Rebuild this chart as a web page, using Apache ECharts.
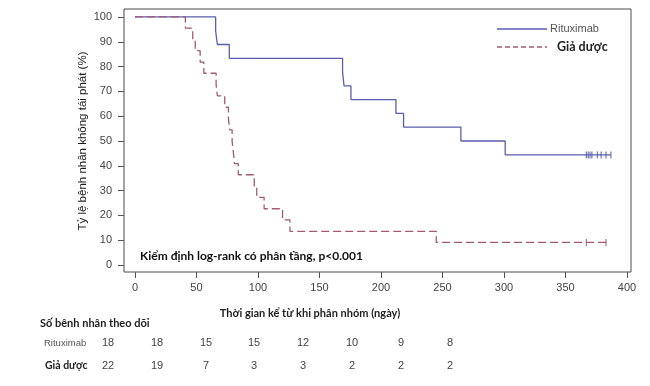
<!DOCTYPE html>
<html>
<head>
<meta charset="utf-8">
<script src="https://cdn.jsdelivr.net/npm/echarts@6/dist/echarts.min.js"></script>
<style>html,body{margin:0;padding:0;background:#fff;}#c{width:650px;height:386px;}</style>
</head>
<body>
<div id="c"></div>
<script>
// ---- data ----
var seriesNames = ['Rituximab', 'Giả dược'];
var rituximabCurve = [[0,100],[65.6,94.4],[67,88.9],[76.7,83.3],[168.8,77.8],[170,72.2],[175.6,66.7],[212.2,61.1],[218.4,55.6],[265,50],[301,44.4],[387,44.4]];
var placeboCurve = [[0,100],[41,95.5],[47,90.9],[49,86.4],[53,81.8],[56,77.3],[66,72.7],[67,68.2],[73,63.6],[76,59.1],[77,54.5],[79,50],[80,45.5],[81,40.9],[84,36.4],[97,31.8],[99,27.3],[105,22.7],[120,18.2],[126,13.6],[245,9.1],[383,9.1]];
var rituximabCensor = [[367,44.4],[368.5,44.4],[370,44.4],[371.5,44.4],[376,44.4],[379,44.4],[383,44.4],[387,44.4]];
var placeboCensor = [[367,9.1],[383,9.1]];
var xTicks = [0,50,100,150,200,250,300,350,400];
var yTicks = [0,10,20,30,40,50,60,70,80,90,100];
var riskTimes = [0,50,100,150,200,250,300,350];
var riskRituximab = [18,18,15,15,12,10,9,8];
var riskPlacebo = [22,19,7,3,3,2,2,2];
var yTitle = 'Tỷ lệ bệnh nhân không tái phát (%)';
var xTitle = 'Thời gian kể từ khi phân nhóm (ngày)';
var riskTitle = 'Số bênh nhân theo dõi';
var note = 'Kiểm định log-rank có phân tầng, p<0.001';

// ---- styles ----
var blue = '#5a5eae';
var mauve = '#a25a72';
var sans = 'Liberation Sans, Arial, sans-serif';
var bold = 'Lato, Open Sans, sans-serif';

var graphics = [];
// legend
graphics.push({type:'line', shape:{x1:497,y1:29,x2:547,y2:29}, style:{stroke:blue, lineWidth:1.3}});
graphics.push({type:'line', shape:{x1:497,y1:47,x2:547,y2:47}, style:{stroke:mauve, lineWidth:1.3, lineDash:[5,3]}});
graphics.push({type:'text', x:550, y:29, style:{text:seriesNames[0], font:'11px '+sans, fill:'#555', textVerticalAlign:'middle'}});
graphics.push({type:'text', x:557, y:47, style:{text:seriesNames[1], font:'bold 12.5px '+bold, fill:'#222', textVerticalAlign:'middle'}});
// y title
graphics.push({type:'text', x:83, y:141, rotation:Math.PI/2, style:{text:yTitle, font:'11.5px '+sans, fill:'#1a1a1a', textAlign:'center', textVerticalAlign:'middle'}});
// annotation
graphics.push({type:'text', x:140, y:256, style:{text:note, font:'bold 12px '+bold, fill:'#111', textVerticalAlign:'middle'}});
// x title
graphics.push({type:'text', x:310, y:313, style:{text:xTitle, font:'bold 11px '+bold, fill:'#222', textAlign:'center', textVerticalAlign:'middle'}});
// risk table
graphics.push({type:'text', x:40, y:323, style:{text:riskTitle, font:'bold 11px '+bold, fill:'#222', textVerticalAlign:'middle'}});
graphics.push({type:'text', x:44, y:343, style:{text:seriesNames[0], font:'9.5px '+sans, fill:'#555', textVerticalAlign:'middle'}});
graphics.push({type:'text', x:45, y:366, style:{text:seriesNames[1], font:'bold 10.5px '+bold, fill:'#222', textVerticalAlign:'middle'}});
var colX = [108,157,206,254,303,352,401,450];
for (var i = 0; i < riskTimes.length; i++) {
  graphics.push({type:'text', x:colX[i], y:343, style:{text:String(riskRituximab[i]), font:'11px '+sans, fill:'#444', textAlign:'center', textVerticalAlign:'middle'}});
  graphics.push({type:'text', x:colX[i], y:366, style:{text:String(riskPlacebo[i]), font:'11px '+sans, fill:'#444', textAlign:'center', textVerticalAlign:'middle'}});
}

var chart = echarts.init(document.getElementById('c'), null, {renderer:'canvas'});
chart.setOption({
  backgroundColor:'#fff',
  animation:false,
  grid:{left:124, top:9, width:507, height:263, show:true, borderColor:'#4a4a4a', borderWidth:1, backgroundColor:'transparent'},
  xAxis:{type:'value', min:-8.9, max:403.3,
    axisLine:{show:false, onZero:false}, splitLine:{show:false},
    axisTick:{show:true, customValues:xTicks, length:6, lineStyle:{color:'#555'}},
    axisLabel:{show:true, customValues:xTicks, margin:10, fontFamily:sans, fontSize:11, color:'#444'}},
  yAxis:{type:'value', min:-2.8, max:103.2,
    axisLine:{show:false, onZero:false}, splitLine:{show:false},
    axisTick:{show:true, customValues:yTicks, length:6, lineStyle:{color:'#555'}},
    axisLabel:{show:true, customValues:yTicks, margin:12, fontFamily:sans, fontSize:11, color:'#444'}},
  series:[
    {name:seriesNames[0], type:'line', step:'end', data:rituximabCurve, showSymbol:false, symbol:'none',
      lineStyle:{color:blue, width:1.3}},
    {name:seriesNames[1], type:'line', step:'end', data:placeboCurve, showSymbol:false, symbol:'none',
      lineStyle:{color:mauve, width:1.3, type:[8,4]}},
    {name:seriesNames[0]+' censor', type:'scatter', data:rituximabCensor, symbol:'rect', symbolSize:[1.3,7],
      itemStyle:{color:blue}},
    {name:seriesNames[1]+' censor', type:'scatter', data:placeboCensor, symbol:'rect', symbolSize:[1.3,7],
      itemStyle:{color:mauve}}
  ],
  graphic:graphics
});
</script>
</body>
</html>
